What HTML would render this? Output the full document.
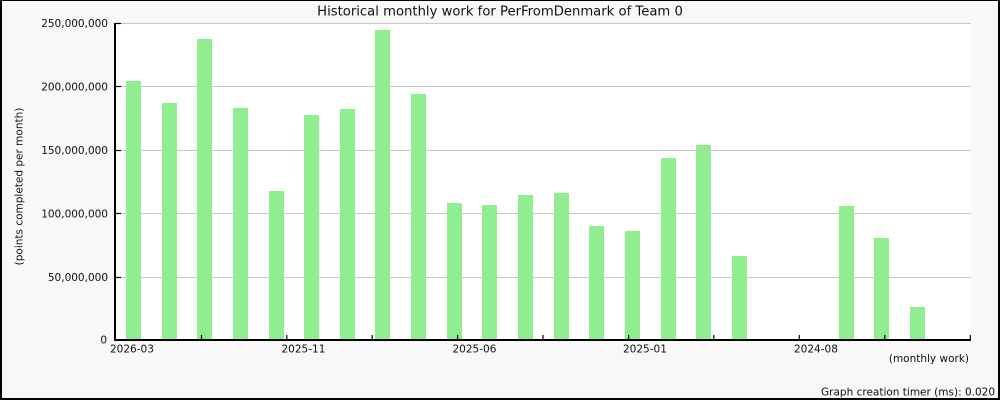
<!DOCTYPE html>
<html><head><meta charset="utf-8"><style>
html,body{margin:0;padding:0;background:#f8f8f8;}
svg{display:block;}
text{font-family:"DejaVu Sans","Liberation Sans",sans-serif;fill:#111;}
</style></head><body>
<svg width="1000" height="400" viewBox="0 0 1000 400" xmlns="http://www.w3.org/2000/svg">
<rect x="0" y="0" width="1000" height="400" fill="#f8f8f8"/>
<rect x="116" y="23" width="855" height="317" fill="#ffffff"/>
<g stroke="#c8c8c8" stroke-width="1">
<line x1="116" y1="23.5" x2="971" y2="23.5"/>
<line x1="116" y1="86.5" x2="971" y2="86.5"/>
<line x1="116" y1="150.5" x2="971" y2="150.5"/>
<line x1="116" y1="213.5" x2="971" y2="213.5"/>
<line x1="116" y1="277.5" x2="971" y2="277.5"/>
</g>
<g fill="#90ee90">
<rect x="126" y="81" width="15" height="259"/>
<rect x="162" y="103" width="15" height="237"/>
<rect x="197" y="39" width="15" height="301"/>
<rect x="233" y="108" width="15" height="232"/>
<rect x="269" y="191" width="15" height="149"/>
<rect x="304" y="115" width="15" height="225"/>
<rect x="340" y="109" width="15" height="231"/>
<rect x="375" y="30" width="15" height="310"/>
<rect x="411" y="94" width="15" height="246"/>
<rect x="447" y="203" width="15" height="137"/>
<rect x="482" y="205" width="15" height="135"/>
<rect x="518" y="195" width="15" height="145"/>
<rect x="554" y="193" width="15" height="147"/>
<rect x="589" y="226" width="15" height="114"/>
<rect x="625" y="231" width="15" height="109"/>
<rect x="661" y="158" width="15" height="182"/>
<rect x="696" y="145" width="15" height="195"/>
<rect x="732" y="256" width="15" height="84"/>
<rect x="839" y="206" width="15" height="134"/>
<rect x="874" y="238" width="15" height="102"/>
<rect x="910" y="307" width="15" height="33"/>
</g>
<!-- axes -->
<rect x="114" y="23" width="2" height="318" fill="#000"/>
<rect x="114" y="339" width="857" height="2" fill="#000"/>
<g stroke="#000" stroke-width="1.2">
<line x1="116" y1="23.5" x2="121" y2="23.5"/>
<line x1="116" y1="86.5" x2="121" y2="86.5"/>
<line x1="116" y1="150.5" x2="121" y2="150.5"/>
<line x1="116" y1="213.5" x2="121" y2="213.5"/>
<line x1="116" y1="277.5" x2="121" y2="277.5"/>
<line x1="201.5" y1="335" x2="201.5" y2="340"/>
<line x1="286.8" y1="335" x2="286.8" y2="340"/>
<line x1="372.2" y1="335" x2="372.2" y2="340"/>
<line x1="457.6" y1="335" x2="457.6" y2="340"/>
<line x1="543" y1="335" x2="543" y2="340"/>
<line x1="628.6" y1="335" x2="628.6" y2="340"/>
<line x1="713.8" y1="335" x2="713.8" y2="340"/>
<line x1="799.3" y1="335" x2="799.3" y2="340"/>
<line x1="884.8" y1="335" x2="884.8" y2="340"/>
<line x1="970.3" y1="335" x2="970.3" y2="341"/>
</g>
<!-- y labels -->
<g font-size="10.5" text-anchor="end">
<text x="108" y="27">250,000,000</text>
<text x="108" y="90.5">200,000,000</text>
<text x="108" y="154">150,000,000</text>
<text x="108" y="217.5">100,000,000</text>
<text x="108" y="281">50,000,000</text>
<text x="107" y="343.5">0</text>
</g>
<!-- x labels -->
<g font-size="10.5">
<text x="110" y="352.5">2026-03</text>
<text x="281.5" y="352.5">2025-11</text>
<text x="452.5" y="352.5">2025-06</text>
<text x="623" y="352.5">2025-01</text>
<text x="794" y="352.5">2024-08</text>
</g>
<text x="500" y="15.5" font-size="13.2" text-anchor="middle">Historical monthly work for PerFromDenmark of Team 0</text>
<text transform="translate(22.5,186.5) rotate(-90)" font-size="10.5" text-anchor="middle">(points completed per month)</text>
<text x="969" y="362" font-size="10.5" text-anchor="end">(monthly work)</text>
<text x="995" y="395.5" font-size="10.5" text-anchor="end">Graph creation timer (ms): 0.020</text>
<!-- outer border -->
<rect x="0" y="0" width="1000" height="1" fill="#000"/>
<rect x="0" y="0" width="2" height="400" fill="#000"/>
<rect x="998" y="0" width="2" height="400" fill="#000"/>
<rect x="0" y="398" width="1000" height="2" fill="#000"/>
</svg>
</body></html>
